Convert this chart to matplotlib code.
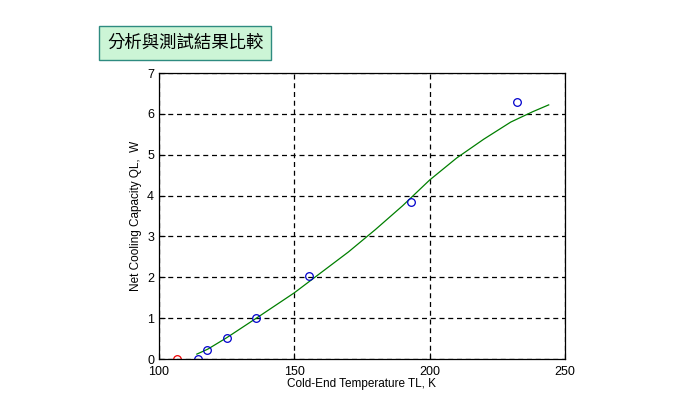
import matplotlib.pyplot as plt
import numpy as np

# measured points
meas_T = [114.4, 117.7, 125.1, 135.8, 155.4, 193.1, 232.4]
meas_Q = [0.0, 0.22, 0.51, 1.0, 2.02, 3.85, 6.30]
red_T = [106.6]
red_Q = [0.0]

# analysis curve
curve_T = [114, 118, 125, 136, 150, 160, 170, 180, 190, 200, 210, 220, 230, 238, 244]
curve_Q = [0.12, 0.24, 0.52, 1.0, 1.62, 2.12, 2.62, 3.17, 3.75, 4.38, 4.92, 5.38, 5.8, 6.05, 6.22]

plt.rcParams['font.family'] = ['Liberation Sans', 'DejaVu Sans']

fig = plt.figure(figsize=(6.96, 4.16), dpi=100)
ax = fig.add_axes([0.2284, 0.137, 0.5833, 0.6875])

ax.plot(curve_T, curve_Q, color='#007f00', lw=0.9)
ax.plot(meas_T, meas_Q, 'o', mfc='none', mec='#0000cc', ms=5.5, mew=0.9)
ax.plot(red_T, red_Q, 'o', mfc='none', mec='#ee0000', ms=5.5, mew=0.9)

ax.set_xlim(100, 250)
ax.set_ylim(0, 7)
ax.set_xticks([100, 150, 200, 250])
ax.set_yticks(np.arange(0, 8, 1))
ax.grid(True, color='black', linestyle=(0, (4, 3)), lw=0.9)
ax.tick_params(direction='in', labelsize=9, length=4)
ax.tick_params(axis='x', pad=5)
ax.set_xlabel('Cold-End Temperature TL, K', fontsize=8.5, labelpad=0)
ax.set_ylabel('Net Cooling Capacity QL,  W', fontsize=8.5, labelpad=4)
for s in ax.spines.values():
    s.set_linewidth(0.9)

fig.text(0.2665, 0.897, '分析與測試結果比較', fontsize=12.5, va='center', ha='center',
         family=['Noto Sans CJK TC', 'DejaVu Sans'],
         bbox=dict(boxstyle='square,pad=0.45', fc='#ccf5d6', ec='#2e8b80', lw=1))

fig.savefig('out.png', dpi=100)
